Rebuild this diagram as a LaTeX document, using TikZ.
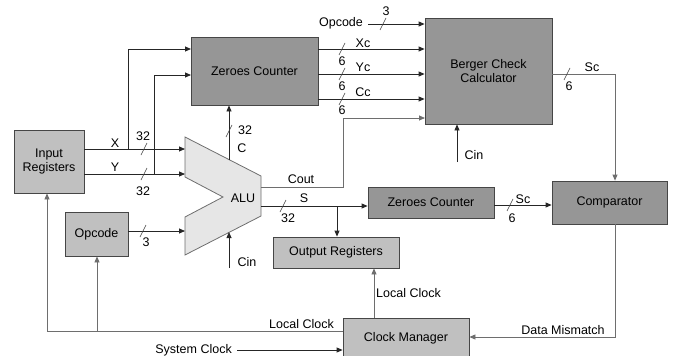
\documentclass[tikz,border=0pt]{standalone}
\usepackage{fontspec}
\setmainfont{Liberation Sans}
\usetikzlibrary{arrows.meta}
\definecolor{boxdark}{RGB}{150,150,150}
\definecolor{boxlight}{RGB}{192,192,192}
\definecolor{alufill}{RGB}{230,230,230}
\definecolor{edgegray}{RGB}{70,70,70}
\definecolor{wiregray}{RGB}{110,110,110}
\tikzset{
  every node/.style={font=\fontsize{12.5}{14}\selectfont},
  unit/.style={draw=edgegray, line width=0.8pt, align=center, inner sep=0pt},
  darkunit/.style={unit, fill=boxdark},
  lightunit/.style={unit, fill=boxlight},
  wire/.style={line width=0.8pt, draw=black!85},
  softwire/.style={line width=0.8pt, draw=wiregray},
  arr/.style={wire, -{Triangle[length=6pt,width=5pt]}},
  softarr/.style={softwire, -{Triangle[length=6pt,width=5pt]}},
  lbl/.style={inner sep=0pt},
  busmark/.pic={\draw[line width=0.6pt, draw=black!75] (-3,6) -- (3,-6);}
}
\begin{document}
\begin{tikzpicture}[x=1pt,y=-1pt]
\useasboundingbox (0,0) rectangle (680,356);

% functional blocks
\node[lightunit, minimum width=70pt, minimum height=63pt] (inreg) at (49,161.5) {Input\\Registers};
\node[darkunit, minimum width=127pt, minimum height=68pt] (zc1) at (254.5,71) {Zeroes Counter};
\node[darkunit, minimum width=127pt, minimum height=106pt] (berger) at (488.5,71) {Berger Check\\Calculator};
\node[lightunit, minimum width=63pt, minimum height=44pt] (opc) at (96.5,234) {Opcode};
\node[darkunit, minimum width=126pt, minimum height=31pt] (zc2) at (431,202.5) {Zeroes Counter};
\node[lightunit, minimum width=126pt, minimum height=31pt] (outreg) at (336,252.5) {Output Registers};
\node[darkunit, minimum width=115pt, minimum height=43pt] (comp) at (609.5,202.5) {Comparator};
\node[lightunit, minimum width=126pt, minimum height=40pt] (clkm) at (406,338) {Clock Manager};

% ALU outline
\coordinate (aluTL) at (185,137);
\coordinate (aluTR) at (261,176);
\coordinate (aluBR) at (261,216);
\coordinate (aluBL) at (185,255);
\coordinate (aluN1) at (185,217);
\coordinate (aluNP) at (223,197);
\coordinate (aluN2) at (185,177);
\draw[draw=wiregray, fill=alufill, line width=0.8pt]
  (aluTL) -- (aluTR) -- (aluBR) -- (aluBL) -- (aluN1) -- (aluNP) -- (aluN2) -- cycle;
\node[lbl] (alu) at (243,198) {ALU};

% ports and bends
\coordinate (aX) at (185,149);
\coordinate (aY) at (185,174);
\coordinate (aOp) at (185,231);
\coordinate (aC) at (229,160);
\coordinate (aCin) at (229,232);
\coordinate (aCout) at (261,187);
\coordinate (aS) at (261,206);
\coordinate (xSplit) at (128,149);
\coordinate (ySplit) at (154,174);
\coordinate (zcX) at (191,49);
\coordinate (zcY) at (191,75);
\coordinate (coutBend) at (343,187);
\coordinate (bgCout) at (425,118);
\coordinate (sSplit) at (337,206);
\coordinate (opTop) at (368,24);
\coordinate (cinTail) at (229,268);
\coordinate (bgCinTail) at (457,162);
\coordinate (scBend) at (615,74);
\coordinate (dmBend) at (615,337);
\coordinate (lcLeft) at (47,331);
\coordinate (lcOpc) at (97,331);
\coordinate (sysTail) at (237,350);

% data paths
\draw[arr] (inreg.east |- aX) -- (aX);
\draw[arr] (inreg.east |- aY) -- (aY);
\draw[arr] (xSplit) |- (zcX);
\draw[arr] (ySplit) |- (zcY);
\draw[arr] (opc.east |- aOp) -- (aOp);
\draw[arr] (aC) -- (zc1.south -| aC);
\draw[arr] (cinTail) -- (aCin);
\draw[softarr] (aCout) -- (coutBend) |- (bgCout);
\draw[arr] (aS) -- (zc2.west |- aS);
\draw[arr] (sSplit) -- (outreg.north -| sSplit);
\draw[arr] (opTop) -- (berger.west |- opTop);
\draw[arr] (zc1.east |- 0,49) -- (berger.west |- 0,49);
\draw[arr] (zc1.east |- 0,74) -- (berger.west |- 0,74);
\draw[arr] (zc1.east |- 0,99) -- (berger.west |- 0,99);
\draw[arr] (bgCinTail) -- (berger.south -| bgCinTail);
\draw[softarr] (berger.east |- scBend) -- (scBend) -- (comp.north -| scBend);
\draw[arr] (zc2.east |- 0,205) -- (comp.west |- 0,205);

% clocking and error paths
\draw[softarr] (comp.south -| dmBend) -- (dmBend) -- (clkm.east |- dmBend);
\draw[softarr] (clkm.north -| 374,0) -- (outreg.south -| 374,0);
\draw[softarr] (clkm.west |- lcLeft) -- (lcLeft) -- (inreg.south -| lcLeft);
\draw[softarr] (lcOpc) -- (opc.south -| lcOpc);
\draw[arr] (sysTail) -- (clkm.west |- sysTail);

% bus width marks
\pic at (144,149) {busmark};
\pic at (144,174) {busmark};
\pic at (143,231) {busmark};
\pic at (229,131) {busmark};
\pic at (283,206) {busmark};
\pic at (383,24) {busmark};
\pic at (342,49) {busmark};
\pic at (342,74) {busmark};
\pic at (342,99) {busmark};
\pic at (567,74) {busmark};
\pic at (510,205) {busmark};

% signal labels
\node[lbl] (lX) at (115,143) {X};
\node[lbl] (lY) at (115,167) {Y};
\node[lbl] (lX32) at (143,136) {32};
\node[lbl] (lY32) at (143,191) {32};
\node[lbl] (lOp3) at (146,242) {3};
\node[lbl] (lC32) at (245,130) {32};
\node[lbl] (lC) at (242,148) {C};
\node[lbl] (lCin) at (247,262) {Cin};
\node[lbl] (lCout) at (301,179) {Cout};
\node[lbl] (lS) at (304,198) {S};
\node[lbl] (lS32) at (288,218) {32};
\node[lbl] (lOpc) at (341,23) {Opcode};
\node[lbl] (lOp3t) at (386,11) {3};
\node[lbl] (lXc) at (363,43) {Xc};
\node[lbl] (lYc) at (363,67) {Yc};
\node[lbl] (lCc) at (363,92) {Cc};
\node[lbl] (lXc6) at (342,61) {6};
\node[lbl] (lYc6) at (342,86) {6};
\node[lbl] (lCc6) at (342,110) {6};
\node[lbl] (lBgCin) at (474,155) {Cin};
\node[lbl] (lSc) at (592,67) {Sc};
\node[lbl] (lSc6) at (569,86) {6};
\node[lbl] (lSc2) at (523,199) {Sc};
\node[lbl] (lSc26) at (512,218) {6};
\node[lbl, anchor=west] (lLcUp) at (376,293) {Local Clock};
\node[lbl, anchor=east] (lLcLeft) at (334,324) {Local Clock};
\node[lbl, anchor=east] (lSys) at (232,350) {System Clock};
\node[lbl] (lDm) at (563,330) {Data Mismatch};
\end{tikzpicture}
\end{document}
